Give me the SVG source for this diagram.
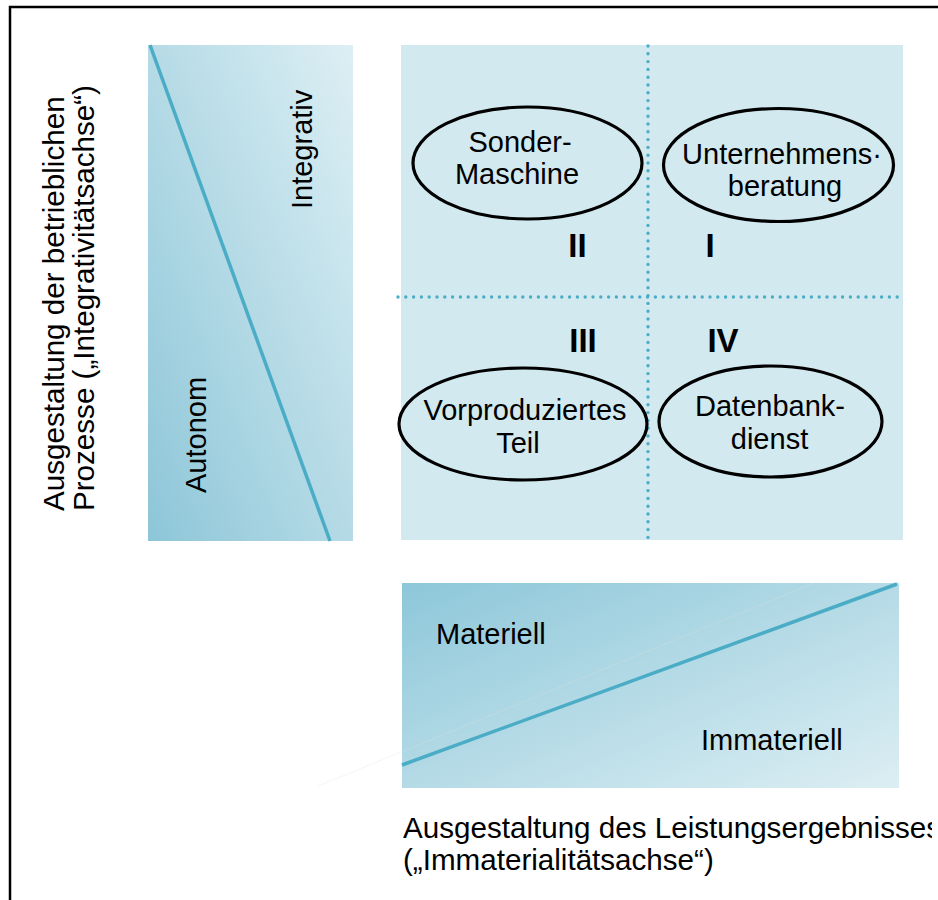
<svg xmlns="http://www.w3.org/2000/svg" width="938" height="900" viewBox="0 0 938 900">
  <style>
    text { font-family: "Liberation Sans", Arial, sans-serif; fill: #000; }
    .lbl { font-size: 29px; }
    .ttl { font-size: 29.6px; }
    .mid { text-anchor: middle; }
    .num { font-size: 33px; font-weight: bold; text-anchor: middle; }
    .oval { fill: none; stroke: #000; stroke-width: 3.2; }
    .trend { stroke: #4BACC6; stroke-width: 3.5; fill: none; }
    .dots { stroke: #4BACC6; stroke-width: 3.4; stroke-linecap: round; stroke-dasharray: 0 7.8; fill: none; }
  </style>
  <defs>
    <linearGradient id="gradVert" x1="0" y1="1" x2="1" y2="0">
      <stop offset="0" stop-color="#8DC6D8"/>
      <stop offset="1" stop-color="#DDEFF4"/>
    </linearGradient>
    <linearGradient id="gradHoriz" x1="0" y1="0" x2="1" y2="1">
      <stop offset="0" stop-color="#8DC7D9"/>
      <stop offset="1" stop-color="#DCEEF3"/>
    </linearGradient>
    <clipPath id="pageClip">
      <rect x="0" y="0" width="932" height="900"/>
    </clipPath>
  </defs>

  <rect width="938" height="900" fill="#fff"/>

  <!-- page frame (top and left edges) -->
  <path d="M10,900 V7 H938" fill="none" stroke="#000" stroke-width="2.5"/>

  <!-- vertical axis: integrativity -->
  <g id="axis-integrativity">
    <rect x="148" y="45" width="205" height="496" fill="url(#gradVert)"/>
    <line class="trend" x1="150" y1="45" x2="330" y2="541"/>
    <text class="lbl" transform="translate(312,209) rotate(-90)">Integrativ</text>
    <text class="lbl" transform="translate(206,493) rotate(-90)">Autonom</text>
  </g>

  <g id="axis-integrativity-title">
    <text class="ttl" transform="translate(64,511) rotate(-90)">Ausgestaltung der betrieblichen</text>
    <text class="ttl" transform="translate(94,511) rotate(-90)">Prozesse („Integrativitätsachse“)</text>
  </g>

  <!-- portfolio matrix -->
  <g id="matrix">
    <rect x="401" y="45" width="502" height="495" fill="#D2E9EF"/>
  </g>

  <g id="connectors">
    <line class="dots" x1="648" y1="46" x2="648" y2="538"/>
    <line class="dots" x1="398" y1="297" x2="898" y2="297"/>
  </g>

  <g id="node-sondermaschine">
    <ellipse class="oval" cx="527.5" cy="163" rx="114.5" ry="56"/>
    <text class="lbl mid" x="520" y="152">Sonder-</text>
    <text class="lbl mid" x="517" y="184">Maschine</text>
  </g>

  <g id="node-unternehmensberatung">
    <ellipse class="oval" cx="778.5" cy="165" rx="115" ry="56.5"/>
    <text class="lbl mid" x="782" y="164">Unternehmens·</text>
    <text class="lbl mid" x="785" y="196">beratung</text>
  </g>

  <g id="node-vorproduziertes-teil">
    <ellipse class="oval" cx="523" cy="424" rx="124" ry="56"/>
    <text class="lbl mid" x="525" y="420">Vorproduziertes</text>
    <text class="lbl mid" x="518" y="453">Teil</text>
  </g>

  <g id="node-datenbankdienst">
    <ellipse class="oval" cx="770.5" cy="421.5" rx="111.5" ry="55.5"/>
    <text class="lbl mid" x="770" y="416">Datenbank-</text>
    <text class="lbl mid" x="769.5" y="449">dienst</text>
  </g>

  <g id="quadrant-labels">
    <text class="num" x="577.5" y="257">II</text>
    <text class="num" x="710" y="257">I</text>
    <text class="num" x="583" y="352">III</text>
    <text class="num" x="723" y="352">IV</text>
  </g>

  <!-- horizontal axis: immateriality -->
  <g id="axis-immateriality">
    <rect x="402" y="583" width="497" height="205" fill="url(#gradHoriz)"/>
    <line class="trend" x1="402" y1="765" x2="897" y2="584"/>
    <line x1="318" y1="786" x2="817" y2="582" stroke="#E2E2E2" stroke-width="1" opacity="0.3"/>
    <text class="lbl" x="436" y="644">Materiell</text>
    <text class="lbl" x="701" y="750">Immateriell</text>
  </g>

  <g id="axis-immateriality-title" clip-path="url(#pageClip)">
    <text class="ttl" x="403" y="838">Ausgestaltung des Leistungsergebnisses</text>
    <text class="ttl" x="403" y="870">(„Immaterialitätsachse“)</text>
  </g>
</svg>
